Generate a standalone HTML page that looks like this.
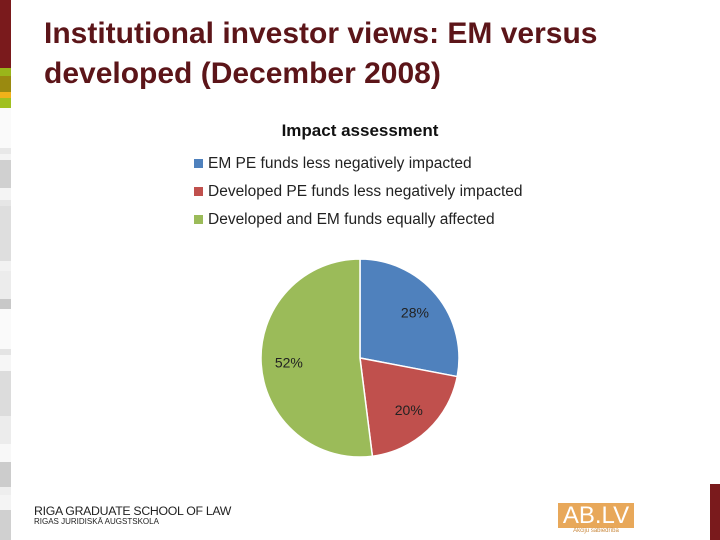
<!DOCTYPE html>
<html><head><meta charset="utf-8"><style>
body{margin:0;width:720px;height:540px;background:#fff;position:relative;overflow:hidden;font-family:"Liberation Sans",sans-serif}
.abs{position:absolute}
.title{left:44px;top:14px;font-size:30px;font-weight:bold;line-height:40px;color:#5c1519;font-family:"Liberation Sans",sans-serif}
.leg{left:194px;font-size:15.5px;color:#222}
.leg span{display:inline-block;width:9px;height:9px;margin-right:5px}
</style></head><body>
<div class="abs" style="left:0;top:0;width:11px;height:540px">
<div style="height:68px;background:#7a1a1c"></div>
<div style="height:8px;background:#9ab51a"></div>
<div style="height:16px;background:#9a8a10"></div>
<div style="height:6px;background:#f0b21a"></div>
<div style="height:10px;background:#a0c020"></div>
<div style="height:40px;background:#fafafa"></div>
<div style="height:6px;background:#e8e8e8"></div>
<div style="height:6px;background:#f4f4f4"></div>
<div style="height:28px;background:#d0d0d0"></div>
<div style="height:12px;background:#f4f4f4"></div>
<div style="height:6px;background:#e6e6e6"></div>
<div style="height:55px;background:#dedede"></div>
<div style="height:10px;background:#f2f2f2"></div>
<div style="height:28px;background:#ececec"></div>
<div style="height:10px;background:#c8c8c8"></div>
<div style="height:40px;background:#fafafa"></div>
<div style="height:6px;background:#e4e4e4"></div>
<div style="height:16px;background:#f6f6f6"></div>
<div style="height:45px;background:#dcdcdc"></div>
<div style="height:28px;background:#ececec"></div>
<div style="height:18px;background:#f8f8f8"></div>
<div style="height:25px;background:#cccccc"></div>
<div style="height:8px;background:#eeeeee"></div>
<div style="height:15px;background:#f4f4f4"></div>
<div style="height:30px;background:#d0d0d0"></div>
</div>
<div class="abs title">Institutional investor views: EM versus<br>developed (December 2008)</div>
<div class="abs" style="left:0;width:720px;text-align:center;top:121px;font-size:17px;font-weight:bold;color:#111">Impact assessment</div>
<div class="abs leg" style="top:155px"><span style="background:#4f81bd"></span>EM PE funds less negatively impacted</div>
<div class="abs leg" style="top:183px"><span style="background:#c0504d"></span>Developed PE funds less negatively impacted</div>
<div class="abs leg" style="top:211px"><span style="background:#9bbb59"></span>Developed and EM funds equally affected</div>
<svg class="abs" style="left:0;top:0" width="720" height="540" id="pie"></svg>
<div class="abs" style="left:34px;top:504px;color:#222">
<div style="font-size:12.3px;letter-spacing:-0.3px">RIGA GRADUATE SCHOOL OF LAW</div>
<div style="font-size:8px;margin-top:-1px">RIGAS JURIDISKĀ AUGSTSKOLA</div></div>
<div class="abs" style="left:558px;top:503px;width:76px;height:25px;background:#e8a85a;color:#fff;font-size:24px;line-height:25px;text-align:center">AB.LV</div>
<div class="abs" style="left:558px;top:528px;width:76px;font-size:6px;color:#c98a40;text-align:center">Akciju sabiedrība</div>
<div class="abs" style="left:710px;top:484px;width:10px;height:56px;background:#7a1a1c"></div>
<script>
const categories=["EM PE funds less negatively impacted","Developed PE funds less negatively impacted","Developed and EM funds equally affected"];
const values=[28,20,52];
const colors=["#4f81bd","#c0504d","#9bbb59"];
const svg=document.getElementById('pie');
const cx=360,cy=358,r=99;
const total=values.reduce((a,b)=>a+b,0);
let a0=0;
const NS="http://www.w3.org/2000/svg";
function pt(a,rr){return [cx+rr*Math.sin(a),cy-rr*Math.cos(a)];}
values.forEach((v,i)=>{
  const a1=a0+v/total*2*Math.PI;
  const p0=pt(a0,r),p1=pt(a1,r);
  const path=document.createElementNS(NS,'path');
  path.setAttribute('d',`M${cx},${cy}L${p0[0]},${p0[1]}A${r},${r} 0 ${a1-a0>Math.PI?1:0} 1 ${p1[0]},${p1[1]}Z`);
  path.setAttribute('fill',colors[i]);
  path.setAttribute('stroke','#fff');
  path.setAttribute('stroke-width','1.5');
  
  
  svg.appendChild(path);
  const m=(a0+a1)/2,lp=pt(m,r*0.72);
  const t=document.createElementNS(NS,'text');
  t.setAttribute('x',lp[0]);t.setAttribute('y',lp[1]+5);
  t.setAttribute('text-anchor','middle');
  t.setAttribute('font-size','14');
  t.setAttribute('font-family','Liberation Sans, sans-serif');
  t.setAttribute('fill','#222');
  t.textContent=v+'%';
  
  
  svg.appendChild(t);
  a0=a1;
});
</script>
</body></html>
